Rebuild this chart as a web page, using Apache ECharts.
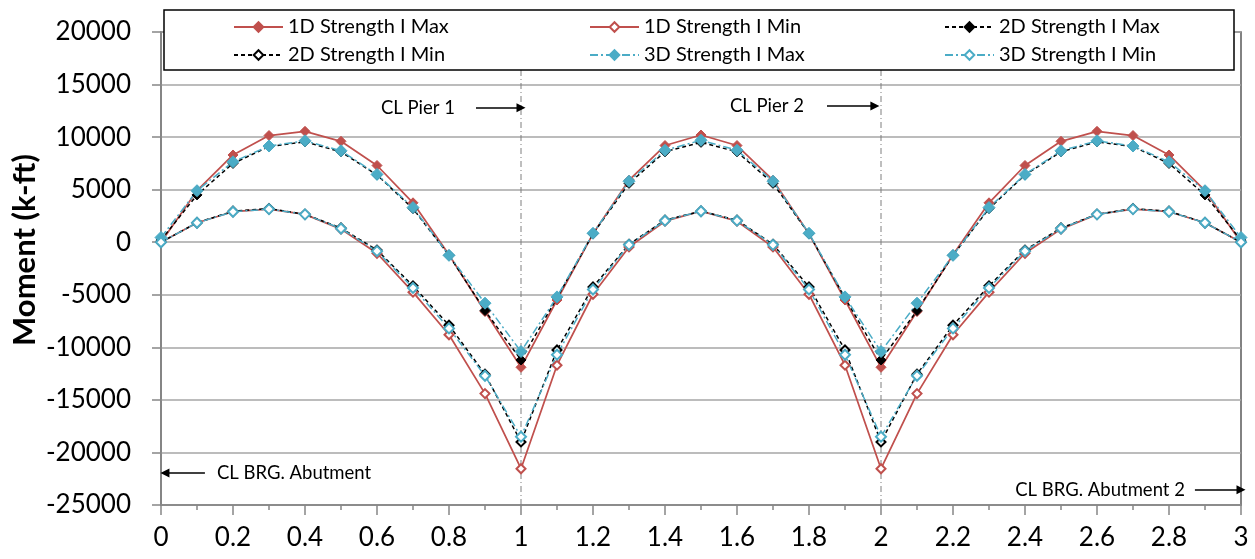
<!DOCTYPE html>
<html>
<head>
<meta charset="utf-8">
<title>Moment envelope</title>
<script src="https://cdn.jsdelivr.net/npm/echarts@6/dist/echarts.min.js"></script>
<style>
  html, body { margin: 0; padding: 0; background: #fff; }
  #chart { width: 1255px; height: 559px; }
</style>
</head>
<body>
<div id="chart"></div>
<script>
// span position (x) and moments in k-ft
var xs = [0, 0.1, 0.2, 0.3, 0.4, 0.5, 0.6, 0.7, 0.8, 0.9, 1.0,
          1.1, 1.2, 1.3, 1.4, 1.5, 1.6, 1.7, 1.8, 1.9, 2.0,
          2.1, 2.2, 2.3, 2.4, 2.5, 2.6, 2.7, 2.8, 2.9, 3.0];
var s1DMax = [0, 4900, 8300, 10150, 10550, 9600, 7300, 3750, -1200, -6600, -11900,
              -5500, 800, 5900, 9200, 10200, 9200, 5900, 800, -5500, -11900,
              -6600, -1200, 3750, 7300, 9600, 10550, 10150, 8300, 4900, 0];
var s1DMin = [0, 1850, 2900, 3150, 2650, 1250, -1050, -4750, -8800, -14400, -21550,
              -11700, -4950, -450, 2000, 2950, 2000, -450, -4950, -11700, -21550,
              -14400, -8800, -4750, -1050, 1250, 2650, 3150, 2900, 1850, 0];
var s2DMax = [200, 4500, 7500, 9100, 9550, 8600, 6400, 3200, -1250, -6500, -11200,
              -5300, 800, 5600, 8600, 9500, 8600, 5600, 800, -5300, -11200,
              -6500, -1250, 3200, 6400, 8600, 9550, 9100, 7500, 4500, 200];
var s2DMin = [0, 1850, 2950, 3200, 2650, 1350, -750, -4150, -7900, -12550, -19000,
              -10250, -4250, -200, 2100, 2950, 2100, -200, -4250, -10250, -19000,
              -12550, -7900, -4150, -750, 1350, 2650, 3200, 2950, 1850, 0];
var s3DMax = [450, 4900, 7650, 9150, 9650, 8700, 6450, 3300, -1250, -5800, -10400,
              -5200, 850, 5800, 8750, 9700, 8750, 5800, 850, -5200, -10400,
              -5800, -1250, 3300, 6450, 8700, 9650, 9150, 7650, 4900, 450];
var s3DMin = [0, 1850, 2900, 3150, 2650, 1300, -850, -4350, -8200, -12700, -18500,
              -10700, -4500, -250, 2050, 2950, 2050, -250, -4500, -10700, -18500,
              -12700, -8200, -4350, -850, 1300, 2650, 3150, 2900, 1850, 0];
var pierX = [1, 2];
var yTop = 17000, yBottom = -25000;

var RED = '#C0504D', BLUE = '#4BACC6', BLACK = '#000000';

function pairs(vals) {
  var out = [];
  for (var i = 0; i < xs.length; i++) out.push([xs[i], vals[i]]);
  return out;
}

function mk(name, vals, color, dash, symbol, size, width) {
  return {
    name: name,
    type: 'line',
    data: pairs(vals),
    symbol: symbol,
    symbolSize: size,
    showAllSymbol: true,
    lineStyle: { color: color, width: width, type: dash },
    itemStyle: { color: color, borderColor: color, borderWidth: 1 },
    z: 2
  };
}

function pierLine(x) {
  return {
    type: 'line',
    data: [[x, yBottom], [x, yTop]],
    symbol: 'none',
    silent: true,
    lineStyle: { color: '#7f7f7f', width: 1, type: [6, 3, 1, 3] },
    z: 1
  };
}

function note(text, x0, x1, y, dist) {
  return [
    { coord: [x0, y], label: { show: true, position: 'start', formatter: text, distance: dist,
        color: '#000', fontSize: 18.5, fontFamily: 'Lato' } },
    { coord: [x1, y] }
  ];
}

var series = [
  mk('1D Strength I Max', s1DMax, RED, 'solid', 'diamond', 10, 1.75),
  mk('1D Strength I Min', s1DMin, RED, 'solid', 'emptyDiamond', 9, 1.75),
  mk('2D Strength I Max', s2DMax, BLACK, [4, 3], 'diamond', 10, 1.5),
  mk('2D Strength I Min', s2DMin, BLACK, [4, 3], 'emptyDiamond', 9, 1.5),
  mk('3D Strength I Max', s3DMax, BLUE, [8, 3, 2, 3], 'diamond', 12, 1.5),
  mk('3D Strength I Min', s3DMin, BLUE, [8, 3, 2, 3], 'emptyDiamond', 10, 1.5)
];
var p1 = pierLine(pierX[0]);
p1.markLine = {
  silent: true,
  animation: false,
  symbol: ['none', 'triangle'],
  symbolSize: 9,
  lineStyle: { color: '#000', width: 1.5, type: 'solid' },
  data: [
    note('CL Pier 1', 0.875, 1.0, 12800, 21),
    note('CL Pier 2', 1.85, 1.983, 12950, 23),
    note('CL BRG. Abutment', 0.122, 0.011, -21950, 12),
    note('CL BRG. Abutment 2', 2.872, 3.0, -23550, 10)
  ]
};
series.push(p1, pierLine(pierX[1]));

function legendCol(names, left) {
  return {
    data: names,
    orient: 'vertical',
    left: left,
    top: 11,
    itemWidth: 49,
    itemHeight: 12,
    itemGap: 6,
    textStyle: { fontSize: 20, lineHeight: 22, color: '#000', fontFamily: 'Lato' },
    z: 4
  };
}

var chart = echarts.init(document.getElementById('chart'));
chart.setOption({
  animation: false,
  textStyle: { fontFamily: 'Lato' },
  grid: { left: 161, right: 14, top: 32, bottom: 54, show: true,
          borderColor: '#595959', borderWidth: 1.5, backgroundColor: 'transparent' },
  legend: [
    legendCol(['1D Strength I Max', '2D Strength I Min'], 228),
    legendCol(['1D Strength I Min', '3D Strength I Max'], 584),
    legendCol(['2D Strength I Max', '3D Strength I Min'], 939)
  ],
  graphic: [
    { type: 'rect', z: 3, shape: { x: 164, y: 10, width: 1070, height: 60 },
      style: { fill: '#fff', stroke: '#000', lineWidth: 1.5 } },
    { type: 'text', z: 3, x: 25, y: 250, rotation: Math.PI / 2,
      style: { text: 'Moment (k-ft)', font: 'bold 31px Lato', fill: '#000',
               textAlign: 'center', textVerticalAlign: 'middle' } }
  ],
  xAxis: {
    type: 'value', min: 0, max: 3, interval: 0.2,
    axisLine: { onZero: false, lineStyle: { color: '#868686', width: 1.5 } },
    axisTick: { show: true, length: 10, lineStyle: { color: '#868686', width: 1.5 } },
    minorTick: { show: true, splitNumber: 2, length: 5, lineStyle: { color: '#868686', width: 1.5 } },
    splitLine: { show: false },
    axisLabel: { color: '#000', fontSize: 26, margin: 20,
                 formatter: function (v) { return String(Math.round(v * 10) / 10); } }
  },
  yAxis: {
    type: 'value', min: -25000, max: 20000, interval: 5000,
    axisLine: { show: true, onZero: false, lineStyle: { color: '#868686', width: 1.5 } },
    axisTick: { show: true, length: 9, lineStyle: { color: '#868686', width: 1.5 } },
    splitLine: { lineStyle: { color: '#a6a6a6', width: 1.5 } },
    axisLabel: { color: '#000', fontSize: 26, margin: 30,
                 formatter: function (v) { return String(v); } }
  },
  series: series
});
</script>
</body>
</html>
